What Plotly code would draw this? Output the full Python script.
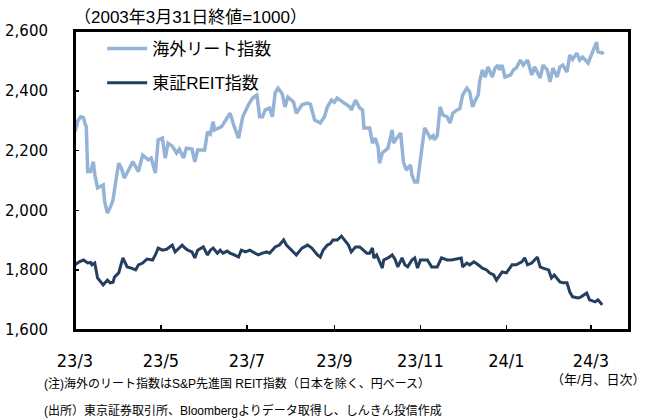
import plotly.graph_objects as go

# ---- data ----
overseas_dates = [
    "2023-03-01", "2023-03-03", "2023-03-05", "2023-03-07", "2023-03-08", "2023-03-09", "2023-03-10",
    "2023-03-12", "2023-03-14", "2023-03-15", "2023-03-17", "2023-03-19", "2023-03-21", "2023-03-22",
    "2023-03-24", "2023-03-26", "2023-03-28", "2023-03-30", "2023-04-01", "2023-04-03", "2023-04-05",
    "2023-04-08", "2023-04-11", "2023-04-15", "2023-04-18", "2023-04-22", "2023-04-24", "2023-04-27",
    "2023-04-29", "2023-05-02", "2023-05-04", "2023-05-06", "2023-05-09", "2023-05-12", "2023-05-14",
    "2023-05-17", "2023-05-19", "2023-05-23", "2023-05-25", "2023-05-27", "2023-06-01", "2023-06-03",
    "2023-06-05", "2023-06-07", "2023-06-08", "2023-06-13", "2023-06-17", "2023-06-19", "2023-06-22",
    "2023-06-25", "2023-06-28", "2023-07-02", "2023-07-05", "2023-07-08", "2023-07-10", "2023-07-12",
    "2023-07-14", "2023-07-17", "2023-07-19", "2023-07-21", "2023-07-23", "2023-07-26", "2023-07-28",
    "2023-07-30", "2023-08-03", "2023-08-05", "2023-08-09", "2023-08-13", "2023-08-15", "2023-08-18",
    "2023-08-22", "2023-08-25", "2023-08-27", "2023-08-30", "2023-09-01", "2023-09-03", "2023-09-05",
    "2023-09-08", "2023-09-12", "2023-09-13", "2023-09-16", "2023-09-19", "2023-09-21", "2023-09-22",
    "2023-09-26", "2023-09-28", "2023-09-30", "2023-10-02", "2023-10-03", "2023-10-05", "2023-10-09",
    "2023-10-12", "2023-10-13", "2023-10-15", "2023-10-18", "2023-10-20", "2023-10-22", "2023-10-25",
    "2023-10-26", "2023-10-28", "2023-10-30", "2023-11-01", "2023-11-04", "2023-11-06", "2023-11-08",
    "2023-11-10", "2023-11-11", "2023-11-13", "2023-11-15", "2023-11-17", "2023-11-20", "2023-11-22",
    "2023-11-24", "2023-11-27", "2023-11-29", "2023-12-01", "2023-12-04", "2023-12-06", "2023-12-08",
    "2023-12-10", "2023-12-12", "2023-12-13", "2023-12-15", "2023-12-17", "2023-12-19", "2023-12-22",
    "2023-12-24", "2023-12-26", "2023-12-27", "2023-12-29", "2023-12-31", "2024-01-04", "2024-01-06",
    "2024-01-08", "2024-01-11", "2024-01-13", "2024-01-16", "2024-01-19", "2024-01-21", "2024-01-25",
    "2024-01-27", "2024-01-30", "2024-02-01", "2024-02-03", "2024-02-06", "2024-02-08", "2024-02-10",
    "2024-02-13", "2024-02-15", "2024-02-17", "2024-02-20", "2024-02-22", "2024-02-24", "2024-02-28",
    "2024-03-02", "2024-03-04", "2024-03-05", "2024-03-06", "2024-03-09", "2024-03-10",
]
overseas_values = [
    2263, 2300, 2313, 2310, 2292, 2280, 2130,
    2130, 2163, 2120, 2075, 2080, 2085, 2030,
    1991, 2010, 2035, 2100, 2158, 2140, 2108,
    2135, 2163, 2130, 2185, 2169, 2175, 2125,
    2236, 2242, 2175, 2225, 2215, 2192, 2205,
    2175, 2208, 2205, 2162, 2202, 2202, 2263,
    2255, 2297, 2269, 2280, 2313, 2325, 2280,
    2242, 2313, 2353, 2376, 2386, 2313, 2313,
    2336, 2342, 2313, 2393, 2409, 2390, 2346,
    2379, 2363, 2325, 2353, 2359, 2355, 2302,
    2292, 2313, 2346, 2369, 2362, 2376, 2369,
    2359, 2346, 2336, 2369, 2342, 2336, 2276,
    2276, 2225, 2242, 2212, 2158, 2192, 2208,
    2269, 2225, 2240, 2259, 2162, 2135, 2152,
    2118, 2095, 2095, 2169, 2276, 2259, 2242,
    2250, 2236, 2250, 2346, 2319, 2313, 2292,
    2325, 2336, 2340, 2386, 2409, 2396, 2346,
    2369, 2386, 2430, 2470, 2446, 2480, 2446,
    2476, 2486, 2470, 2486, 2446, 2453, 2470,
    2476, 2503, 2486, 2503, 2453, 2480, 2443,
    2486, 2470, 2430, 2476, 2446, 2480, 2486,
    2463, 2520, 2505, 2526, 2503, 2513, 2493,
    2526, 2553, 2563, 2530, 2526, 2530,
]

tse_dates = [
    "2023-03-01", "2023-03-04", "2023-03-07", "2023-03-10", "2023-03-12", "2023-03-13", "2023-03-15",
    "2023-03-17", "2023-03-21", "2023-03-24", "2023-03-26", "2023-03-28", "2023-03-29", "2023-04-01",
    "2023-04-04", "2023-04-07", "2023-04-10", "2023-04-13", "2023-04-15", "2023-04-18", "2023-04-21",
    "2023-04-25", "2023-04-27", "2023-04-29", "2023-05-02", "2023-05-05", "2023-05-09", "2023-05-11",
    "2023-05-13", "2023-05-16", "2023-05-18", "2023-05-20", "2023-05-23", "2023-05-25", "2023-05-27",
    "2023-05-31", "2023-06-03", "2023-06-05", "2023-06-07", "2023-06-10", "2023-06-12", "2023-06-14",
    "2023-06-17", "2023-06-19", "2023-06-22", "2023-06-25", "2023-06-27", "2023-06-30", "2023-07-03",
    "2023-07-07", "2023-07-09", "2023-07-12", "2023-07-15", "2023-07-17", "2023-07-21", "2023-07-24",
    "2023-07-27", "2023-07-29", "2023-08-02", "2023-08-05", "2023-08-09", "2023-08-13", "2023-08-16",
    "2023-08-20", "2023-08-22", "2023-08-24", "2023-08-27", "2023-08-29", "2023-08-31", "2023-09-03",
    "2023-09-06", "2023-09-08", "2023-09-11", "2023-09-13", "2023-09-16", "2023-09-19", "2023-09-21",
    "2023-09-24", "2023-09-26", "2023-09-28", "2023-09-29", "2023-10-01", "2023-10-05", "2023-10-06",
    "2023-10-09", "2023-10-12", "2023-10-14", "2023-10-16", "2023-10-19", "2023-10-21", "2023-10-23",
    "2023-10-26", "2023-10-28", "2023-10-30", "2023-11-01", "2023-11-04", "2023-11-06", "2023-11-09",
    "2023-11-11", "2023-11-13", "2023-11-16", "2023-11-20", "2023-11-23", "2023-11-27", "2023-11-30",
    "2023-12-01", "2023-12-04", "2023-12-06", "2023-12-09", "2023-12-12", "2023-12-15", "2023-12-18",
    "2023-12-20", "2023-12-23", "2023-12-25", "2023-12-29", "2024-01-01", "2024-01-05", "2024-01-08",
    "2024-01-12", "2024-01-14", "2024-01-16", "2024-01-19", "2024-01-23", "2024-01-25", "2024-01-27",
    "2024-01-31", "2024-02-02", "2024-02-04", "2024-02-08", "2024-02-10", "2024-02-13", "2024-02-15",
    "2024-02-17", "2024-02-21", "2024-02-23", "2024-02-27", "2024-02-29", "2024-03-04", "2024-03-06",
    "2024-03-09",
]
tse_values = [
    1818, 1828, 1834, 1824, 1826, 1818, 1824,
    1774, 1751, 1767, 1758, 1760, 1777, 1791,
    1841, 1811, 1807, 1801, 1818, 1824, 1837,
    1834, 1851, 1874, 1867, 1870, 1884, 1861,
    1870, 1884, 1874, 1867, 1861, 1841, 1867,
    1878, 1851, 1867, 1874, 1857, 1867, 1857,
    1864, 1857, 1851, 1844, 1867, 1861, 1867,
    1857, 1851, 1857, 1861, 1857, 1878, 1884,
    1901, 1884, 1867, 1851, 1874, 1884, 1874,
    1851, 1844, 1867, 1884, 1888, 1901, 1901,
    1914, 1901, 1884, 1861, 1878, 1878, 1870,
    1857, 1857, 1874, 1841, 1851, 1807, 1834,
    1841, 1851, 1837, 1811, 1841, 1818, 1811,
    1834, 1841, 1807, 1834, 1834, 1834, 1811,
    1811, 1811, 1841, 1834, 1834, 1838, 1841,
    1811, 1824, 1818, 1828, 1818, 1807, 1801,
    1791, 1784, 1767, 1794, 1791, 1818, 1818,
    1828, 1841, 1818, 1824, 1844, 1811, 1807,
    1801, 1774, 1784, 1761, 1758, 1758, 1727,
    1711, 1707, 1711, 1724, 1701, 1694, 1701,
    1684,
]

series_names = ["海外リート指数", "東証REIT指数"]
tick_dates = ["2023-03-01", "2023-05-01", "2023-07-01", "2023-09-01",
              "2023-11-01", "2024-01-01", "2024-03-01"]
tick_labels = ["23/3", "23/5", "23/7", "23/9", "23/11", "24/1", "24/3"]
y_ticks = [1600, 1800, 2000, 2200, 2400, 2600]

FONT = "Liberation Sans, Arial, Noto Sans CJK JP, sans-serif"
NARROW = "Liberation Sans Narrow, DejaVu Sans Condensed, Arial Narrow, sans-serif"

# plot-area geometry in pixels (used only to place the free texts)
L, R, T, B = 75, 629, 31, 330
W, H = R - L, B - T

fig = go.Figure()
fig.add_trace(go.Scatter(
    x=overseas_dates, y=overseas_values, mode="lines", name=series_names[0],
    line=dict(color="#95b3d7", width=3.5), legend="legend", showlegend=True,
))
fig.add_trace(go.Scatter(
    x=tse_dates, y=tse_values, mode="lines", name=series_names[1],
    line=dict(color="#243f60", width=3), legend="legend2", showlegend=True,
))

fig.update_layout(
    width=650, height=420,
    margin=dict(l=L, r=650 - R, t=T, b=420 - B, autoexpand=False),
    paper_bgcolor="white", plot_bgcolor="white",
    font=dict(family=FONT, color="black", size=14),
    hovermode=False,
    showlegend=True,
    legend=dict(x=0.049, y=1.0, xanchor="left", yanchor="top",
                font=dict(size=17, family=FONT), itemwidth=40,
                bgcolor="rgba(0,0,0,0)"),
    legend2=dict(x=0.049, y=0.886, xanchor="left", yanchor="top",
                 font=dict(size=17, family=FONT), itemwidth=40,
                 bgcolor="rgba(0,0,0,0)"),
)

# plot frame (box around the plotting area)
fig.add_shape(type="rect", xref="paper", yref="paper", x0=0, y0=0, x1=1, y1=1,
              line=dict(color="black", width=2), fillcolor="rgba(0,0,0,0)", layer="above")

fig.update_xaxes(
    type="date", range=["2023-03-01", "2024-03-28"],
    tickvals=tick_dates, ticktext=tick_labels,
    ticks="inside", ticklen=5, tickcolor="black", tickwidth=1.5,
    showline=True, linecolor="black", linewidth=2, mirror=True,
    showgrid=False, zeroline=False, automargin=False,
    tickfont=dict(family=NARROW, size=18), ticklabelstandoff=13,
)
fig.update_yaxes(
    range=[1600, 2600], tickvals=y_ticks, tickformat=",",
    ticks="inside", ticklen=4, tickcolor="black", tickwidth=1.5,
    showline=True, linecolor="black", linewidth=2, mirror=True,
    showgrid=False, zeroline=False, automargin=False,
    tickfont=dict(family="DejaVu Sans, sans-serif", size=15), ticklabelstandoff=22,
)

notes = [
    dict(text="（2003年3月31日終値=1000）", x=72, y=17, size=17, anchor="left"),
    dict(text="(注)海外のリート指数はS&P先進国 REIT指数（日本を除く、円ベース）", x=42, y=383, size=12, anchor="left"),
    dict(text="(出所）東京証券取引所、Bloombergよりデータ取得し、しんきん投信作成", x=42, y=410, size=12, anchor="left"),
    dict(text="（年/月、日次）", x=648, y=380, size=13, anchor="right"),
]
for n in notes:
    fig.add_annotation(
        text=n["text"], xref="paper", yref="paper",
        x=(n["x"] - L) / W, y=(B - n["y"]) / H,
        xanchor=n["anchor"], yanchor="middle", showarrow=False,
        font=dict(size=n["size"], family=FONT, color="black"),
    )

fig.write_html(
    "out.html",
    config={"displayModeBar": False, "staticPlot": True},
    post_script="document.body.style.margin='0';document.body.style.overflow='hidden';",
)
